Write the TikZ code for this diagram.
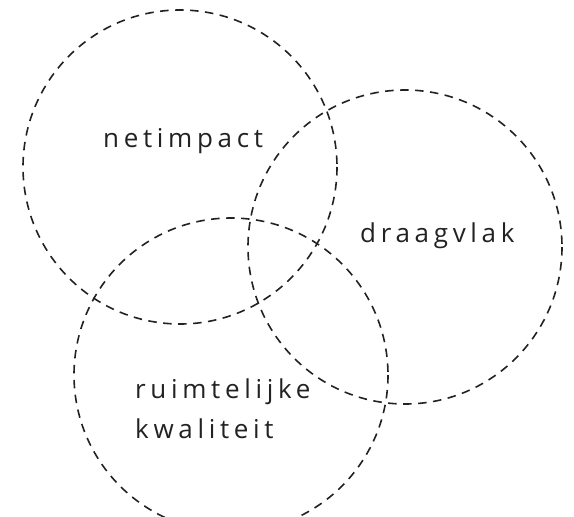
\documentclass[tikz,border=0pt]{standalone}
\usepackage{fontspec}
\setmainfont{Open Sans}
\newfontfamily\lblfont[LetterSpace=18]{Open Sans}
\definecolor{ink}{HTML}{222222}
\begin{document}
\begin{tikzpicture}[x=1pt,y=-1pt,
  ring/.style={draw=ink,line width=1.6pt,dash pattern=on 8.5pt off 6.5pt},
  lbl/.style={anchor=base west,inner sep=0pt,text=ink,font=\lblfont\fontsize{26}{40}\selectfont}]
\useasboundingbox (0,0) rectangle (574,517);
\draw[ring] (180,167) circle (157);
\draw[ring] (405,247) circle (157);
\draw[ring] (231,375) circle (157);
\node[lbl] (n1) at (103,147) {netimpact};
\node[lbl] (n2) at (360,242) {draagvlak};
\node[lbl] (n3a) at (135,398) {ruimtelijke};
\node[lbl] (n3b) at (135,438) {kwaliteit};
\end{tikzpicture}
\end{document}
